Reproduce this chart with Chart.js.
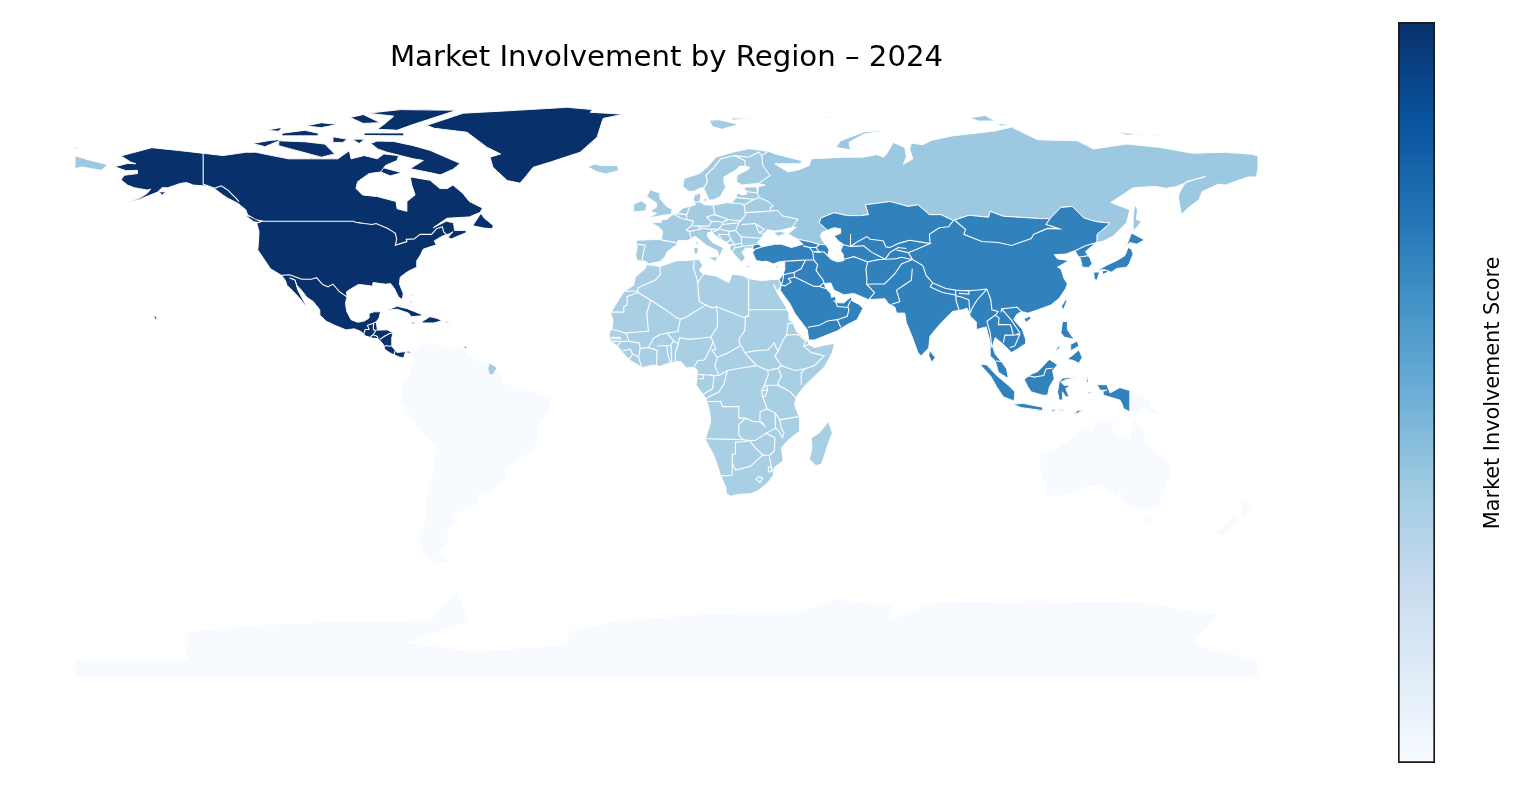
<!DOCTYPE html>
<html>
<head>
<meta charset="utf-8">
<title>Market Involvement by Region</title>
<script src="https://cdn.jsdelivr.net/npm/chart.js@4"></script>
<style>
  html, body { margin: 0; background: #fff; overflow: hidden; }
  #mapChart { position: absolute; left: 0; top: 0; }
  #barChart { position: absolute; left: 1390px; top: 0; }
</style>
</head>
<body>
<canvas id="mapChart" width="1519" height="789"></canvas>
<canvas id="barChart" width="129" height="789"></canvas>
<script>
// Scores
const regionNames = ['North America', 'Asia', 'Europe', 'Russia', 'Africa', 'South America', 'Oceania', 'Antarctica'];
const regionScores = [100, 69, 36, 38, 34, 0, 0, 0];
const blues = ['#f7fbff', '#deebf7', '#c6dbef', '#9ecae1', '#6baed6', '#4292c6', '#2171b5', '#08519c', '#08306b'];

// Outlines are [lon, lat] pairs
const northAmericaLand = [
  [[-156.6,71.4],[-166,68.9],[-163,67],[-161.5,66.5],[-164,66.6],[-168,65.6],[-164.5,64.4],[-161,64.5],[-161,63.5],[-165,63],[-166,61.6],[-164,60],[-162,59.2],[-158,58.5],[-157,58.8],[-158,57.5],[-160,56.2],[-164,54.8],[-160,55.8],[-155,57.8],[-153.5,59.2],[-151.8,59.2],[-150,59.8],[-148,60.5],[-146,60.8],[-144,60],[-140,59.7],[-137,58.5],[-135,57],[-133.5,56],[-130.5,54.5],[-128,52.5],[-127.5,51],[-125,49.5],[-122.8,49],[-124.7,48.4],[-124,46],[-124.2,42],[-124.4,40.3],[-122.5,37.5],[-120.5,34.5],[-117.2,32.5],[-116,31],[-115.5,29.5],[-112.5,26.5],[-110,23.5],[-109.5,23.2],[-110.5,24.8],[-112.2,28],[-113,31],[-114.7,31.7],[-113.1,31.2],[-112.5,29.5],[-111,27.9],[-109.4,25.8],[-107.5,24.5],[-105.5,22],[-105.5,20.4],[-103.5,18.5],[-101,17.3],[-97.5,15.9],[-95,16.2],[-93,15.4],[-91.5,14],[-89.5,13.4],[-87.8,13.2],[-87.4,12.9],[-86,11.2],[-85.7,9.9],[-84,8.8],[-82.8,8.3],[-81.5,7.7],[-80,7.3],[-79.5,9],[-78,8.8],[-77.3,8.6],[-78.5,9.4],[-80,9.2],[-82,9],[-83.6,10.9],[-83.6,13.5],[-83.2,15],[-85,15.9],[-88,15.8],[-88.3,18.4],[-87.5,19.5],[-87,21.4],[-89,21.4],[-90.5,20.9],[-90.5,19.5],[-91.9,18.6],[-94,18.2],[-96,19],[-97.3,21.5],[-97.7,24],[-97.2,26],[-97.4,27.5],[-95,29],[-93.8,29.7],[-91.5,29.5],[-89.5,29.2],[-89.3,30.3],[-85.5,29.8],[-84,30],[-82.8,28.5],[-81.5,25.8],[-80.4,25.2],[-80.1,26.9],[-81.3,30],[-81,32],[-78.5,33.8],[-76,35],[-76,37],[-75,38.5],[-74,40.5],[-71,41.5],[-70,41.8],[-70.7,43],[-68,44.6],[-66,45.2],[-65,45.8],[-66.5,44],[-65.5,43.6],[-61,45.5],[-61,46.2],[-64.5,46.2],[-64.8,48.5],[-67,49],[-71,47],[-66.8,49.9],[-60,50.3],[-56.7,51.7],[-56,53],[-60,55],[-62,57.5],[-65,60],[-66.8,58.9],[-69,59],[-72,61.5],[-78,62.5],[-77.5,60],[-76.5,57],[-79,55],[-79,52],[-82,52.8],[-82.3,55],[-88,56.5],[-92.5,57],[-94.5,59],[-94,61],[-90.5,63.5],[-87,64],[-85.5,66],[-82,67.5],[-81.5,69],[-86,69.5],[-88,68],[-92,69],[-96,68],[-96.5,70.5],[-100,68],[-108,68],[-115,68],[-125,70],[-128,70],[-135,69],[-141,69.7],[-148,70.5]],
  [[-90,72.7],[-88,73.4],[-83,73.3],[-77,72],[-72,70.6],[-62.8,66.6],[-65,64.8],[-69,63],[-67,62.7],[-72,63.8],[-78,65],[-74,67.5],[-77,68],[-85,70],[-87.8,71]],
  [[-118,72],[-105,68.5],[-101,69.5],[-104,72.5],[-110,73.2],[-118,73.5]],
  [[-126,72.7],[-120.7,73.6],[-116.7,74],[-122.2,71.7]],
  [[-90.8,81.9],[-81,83],[-63.8,82.8],[-77,78.5],[-82,76.7],[-88,77],[-85.6,78.8],[-83,81]],
  [[-92,75.9],[-80,75.9],[-80,75],[-92,75.1]],
  [[-96.3,80.6],[-92.3,81.5],[-87,79],[-92.3,78.8]],
  [[-117,75.8],[-110,76.7],[-106,75.8],[-106,75],[-117,75]],
  [[-122,76.7],[-117,77.6],[-118,76.4]],
  [[-101.5,74.7],[-97.2,74],[-98.5,73],[-101.5,73]],
  [[-95.7,74],[-91.8,74],[-93.5,72.7]],
  [[-87,65.5],[-80.5,63.8],[-84,62.8],[-87,64]],
  [[-105,79],[-100,78.5],[-105,77.5],[-110,78]],
  [[-59,47.6],[-55.5,46.9],[-53,46.7],[-52.7,47.7],[-55.5,50],[-56.5,51.4]],
  [[-128.3,50.8],[-125,50],[-123.5,48.5],[-125.5,48.8]],
  [[-73,78.2],[-61.9,81.9],[-45.5,82.8],[-30.3,83.7],[-22.4,83],[-23.3,82.2],[-13.2,81.6],[-19.3,80.3],[-21.1,74.6],[-26.3,70],[-35.4,67],[-40.6,65.4],[-43,62.4],[-44.6,60.6],[-48.5,61.4],[-52.8,65.4],[-53.7,68.5],[-50.5,69.5],[-54.6,71.5],[-60.7,76.1],[-70.7,77.3]],
  [[-85,21.9],[-82,23.1],[-79,22.4],[-75,20.8],[-74.2,20.2],[-77.7,19.9],[-78.5,21],[-82,22.2]],
  [[-74.4,18.4],[-72,19.9],[-69.8,19.4],[-68.4,18.6],[-71,18],[-74,18]],
  [[-78.3,18.3],[-76.3,18.1],[-77,17.7]],
  [[-67.2,18.4],[-65.7,18.3],[-67,18]],
  [[-78,26.7],[-77,26.6],[-77.8,26.3]],
  [[-78,24.5],[-77.5,24.5],[-77.5,23.8]],
  [[-156,20.2],[-155,19.7],[-155.7,18.95]],
  [[-61.7,10.7],[-60.9,10.8],[-61,10.1]],
  [[-154.5,57.9],[-152.3,58],[-153.5,57]]
];
const northAmericaBorders = [
  [[-123,49],[-95.2,49],[-94.6,48.7],[-92,48.3],[-89.6,48],[-88.4,48.3],[-84.8,46.8],[-82.5,45.3],[-82.1,43.5],[-82.5,41.7],[-79,42.8],[-79.2,43.5],[-76.8,43.6],[-75,45],[-71.5,45],[-70,46.7],[-68.2,47.3],[-67.8,45.7],[-67,45]],
  [[-141,69.7],[-141,60.3],[-137.5,59],[-135.5,59.8],[-133.4,58.4],[-131,56],[-130.1,55]],
  [[-117.1,32.5],[-114.7,32.7],[-111,31.3],[-108.2,31.3],[-106.5,31.8],[-104.5,29.6],[-103,29],[-101.5,29.8],[-99.5,27.5],[-97.2,25.9]],
  [[-92.2,14.5],[-91.7,16],[-90.5,16],[-91,17.3],[-89.15,17.9],[-88.3,18.4]],
  [[-89.15,17.9],[-89.2,15.9],[-88.2,15.7]],
  [[-90.1,13.8],[-89.3,14.4],[-88,13.9],[-87.8,13.3]],
  [[-89.3,14.4],[-88.5,15.6]],
  [[-87.3,13],[-85.7,14],[-84.5,14.7],[-83.2,15]],
  [[-85.7,11.1],[-83.7,10.9]],
  [[-82.9,8.1],[-82.6,9.6]]
];

const southAmericaLand = [
  [[-77.3,8.6],[-75.5,10.7],[-72,12.2],[-71.3,11],[-70,12],[-68,10.6],[-62,10.7],[-60,8.4],[-57,6],[-54,5.8],[-52,4.5],[-50,1.8],[-50,0],[-48,-0.7],[-44.5,-2.5],[-40,-2.9],[-35.2,-5.3],[-34.8,-7.5],[-37,-11],[-39,-13.5],[-39,-18],[-40.7,-21.5],[-44,-23],[-48.5,-26],[-49,-29],[-52,-32.5],[-54,-34.5],[-58,-34.5],[-57,-37],[-62,-39],[-65,-41],[-64,-42.5],[-67,-46],[-66,-48],[-69,-51],[-68.3,-52.4],[-71,-53.5],[-74.5,-52],[-75.5,-47],[-73,-41.5],[-73.5,-37],[-71.5,-30],[-70.2,-20],[-76,-14],[-81,-6],[-80.5,-3],[-80,0.5],[-78,2.7],[-77.5,7]],
  [[-68.6,-52.7],[-65,-54.9],[-70,-55],[-74,-53]],
  [[-61,-51.5],[-58,-51.5],[-59,-52.3]]
];

const europeLand = [
  [[31,70.3],[25,71.1],[20,70],[15,68.5],[12.5,65.5],[10,63.5],[5.3,62],[5,59.5],[7,58],[8.5,58.2],[10.7,59.3],[11.3,59],[12.5,56.5],[12.9,55.4],[14.3,55.5],[16.4,56.5],[18,59.5],[17.5,60.7],[17.5,62.5],[21,64.5],[22.3,65.8],[25.3,65.5],[25,64.9],[21.5,63],[21.3,61],[23,60],[25.5,60.3],[28,60.5],[28,59.5],[24.5,59.4],[23.5,59.2],[24.3,58.2],[24.4,57.3],[23.2,57],[21.6,57.5],[21,56],[19.8,54.5],[18.5,54.7],[16,54.2],[14.2,53.9],[11.5,54],[10.9,54.4],[10,55],[10.5,56.3],[10.3,57.6],[8.5,57],[8.2,55.5],[8.8,54],[7,53.5],[5,53],[4,52],[3,51.2],[1.7,50.9],[0,49.5],[-1.6,49.5],[-1.5,48.7],[-4.7,48.5],[-2.5,47.3],[-1.2,46],[-1.5,43.5],[-4,43.4],[-9.2,43.2],[-8.9,41],[-9.4,38.8],[-8.9,37],[-6.3,36.8],[-5.4,36],[-2,36.7],[-0.4,38.2],[0.2,39.7],[3.1,41.8],[3.5,43.2],[6.5,43.1],[8.7,44.4],[10.5,43],[12.4,41.5],[15.5,40],[16,38],[16.7,39.5],[17,40.4],[18.4,40],[16.7,41.2],[14,42.5],[12.5,44.3],[12.4,45.4],[13.7,45.7],[14.5,45],[17,43],[19.4,41.7],[19.3,40.5],[21,38.5],[22.8,36.5],[24,37.8],[23,39.5],[24,40.8],[26.3,40.8],[26.3,41.7],[28,42],[27.7,42.6],[28.6,43.5],[29.7,45.2],[30.7,46.4],[33,46],[35,46.3],[38.2,47.1],[40,49.6],[35.3,50.6],[33.8,52.3],[31.8,52.1],[31.5,53.2],[32.5,53.6],[30.9,55],[28.2,56.2],[27.7,57.3],[27.5,59.4],[28,60.5],[31.5,62.9],[29.3,66],[29,69]],
  [[32.6,45.4],[34.5,46],[36.5,45.3],[34,44.4]],
  [[-24,65.5],[-21,64],[-18.5,63.4],[-14.5,64.4],[-15,66],[-20,66],[-22,66.4]],
  [[-5.5,50],[1.5,51.2],[1.7,52.7],[0,53.5],[-2,55.9],[-2,57.6],[-5,58.6],[-6,56.5],[-3,54.5],[-3,53.3],[-5,52],[-3,51.4]],
  [[-10,51.8],[-6.3,52.2],[-6,54],[-7.5,55.2],[-10,54.2]],
  [[12.5,38],[15.6,38.2],[15,36.7]],
  [[8.3,41],[9.7,41],[9.5,39.1],[8.5,39]],
  [[8.7,42.5],[9.5,43],[9.4,41.5]],
  [[23.7,35.5],[26.2,35.3],[24.7,34.9]],
  [[32.5,35],[34.5,35.6],[33.5,34.7]],
  [[11,55.7],[12.5,56],[12,54.9]],
  [[13,79.8],[16,79.9],[22,78.5],[17,77],[14,77.8]],
  [[20,80.5],[27,80.2],[20,79.8]],
  [[-54,5.8],[-52,4.7],[-51.7,4.1],[-52.7,2.3],[-54,2.2],[-54.4,4]]
];
const europeBorders = [
  [[11.3,59],[12.5,61],[12,63],[14.5,65.5],[16.5,68],[20.5,69],[25,68.5],[28,70],[29,69]],
  [[20.5,69],[23.8,67.5],[24,65.8]],
  [[-1.7,43.3],[3.1,42.4]],
  [[-8.8,42],[-6.5,41.7],[-7,39.5],[-7.4,37.2]],
  [[2.5,51],[4.2,50],[5.8,49.5],[6.2,49.5],[8.2,49],[7.6,47.6],[6,46.3],[7,45.9],[7.5,43.8]],
  [[3.3,51.3],[6,51]],
  [[7,53.2],[6.1,50.8],[6.2,49.5]],
  [[7,45.9],[10.4,46.6],[9.6,47.5],[7.6,47.6]],
  [[8.6,54.9],[9.9,54.8]],
  [[14.2,53.9],[14.7,51],[12.2,50.3],[13.7,48.8],[13,47.5],[9.6,47.5]],
  [[10.4,46.9],[13.7,46.5],[16,46.7],[17,48]],
  [[13.7,48.8],[15,49],[17,48.7],[18.8,49.5],[14.7,51]],
  [[18.8,49.5],[22.5,49.1],[24,50.8],[23.7,53.8],[22.7,54.4],[19.8,54.5]],
  [[17,48.7],[17,48],[22,48.5],[22.5,49.1]],
  [[22,48.5],[21,46.2],[19,45.9],[16,46.7]],
  [[22.9,48],[27,48.3],[29.8,46.5],[28.2,45.5],[29.7,45.2]],
  [[27,48.3],[28.2,45.5]],
  [[21,46.2],[22.7,44.3],[28.6,43.8]],
  [[22.7,44.3],[23,41.3],[26.3,41.7]],
  [[23,41.3],[20.9,40.9],[20,39.7]],
  [[19.4,41.7],[20.5,42],[20.9,40.9]],
  [[20.6,42],[23,42.3]],
  [[15.8,45],[19,44.9],[19.6,43.5],[18.5,42.5],[17,43.2],[15.8,45]],
  [[19.6,43.5],[20.6,42],[19.4,41.8]],
  [[13.7,45.5],[16,46.5]],
  [[13.7,46.5],[13.7,45.6]],
  [[19,45.9],[19,45]],
  [[24,51.6],[31.8,52.1]],
  [[23.5,53.9],[26.6,55.6],[28.2,56.2]],
  [[21,56.2],[26.6,55.7]],
  [[24.4,58],[27.5,57.6]]
];

const russiaLand = [
  [[28,60.5],[30,60],[28,59.5],[27.7,57.3],[28.2,56.2],[30.9,55],[32.5,53.6],[31.5,53.2],[31.8,52.1],[33.8,52.3],[35.3,50.6],[40,49.6],[38.2,47.1],[39.5,47.2],[37.5,45.5],[37,45],[38.5,44.3],[40,43.5],[43.7,42.7],[46.5,41.9],[48.5,41.8],[47.5,43],[46.8,44.6],[47.5,45.7],[49,46.3],[47,48],[46.5,48.5],[47,50],[51,51.6],[55,50.7],[59,50.7],[61.5,51],[60.5,54],[68,55],[71,54.2],[73.5,53.5],[76.5,54],[80,51],[83.5,51],[87.3,49.2],[92,50.8],[98,50.2],[98.5,52],[102.5,50.5],[106,50.3],[113.8,49.8],[116.7,49.8],[120,53.2],[123.5,53.5],[127,50],[130.6,48.9],[135,48.4],[131,45],[131,43],[130.6,42.4],[133,43],[136,44.5],[140,48.5],[141,52.5],[137,54],[135.2,54.7],[138,56.5],[142,59.2],[149,59.6],[152,59],[155,59.5],[160,61.5],[164,62.6],[158,61],[156,57.5],[155.8,56],[156.7,51],[158.5,52.8],[162,55.5],[163,58],[168,60.3],[170,60],[177,62.5],[179.5,62.5],[180,65],[180,68.9],[178,69.4],[170,70],[160,69.7],[150,71.5],[140,72.5],[130,71],[125,73.5],[113,73.8],[105,77.7],[100,76.5],[87,75],[80.5,73.6],[78,72.3],[74.5,72.8],[74,71],[75,68],[72,66.3],[73,68.5],[72.5,71.5],[69,73],[67,69.5],[66,68.5],[64,69.3],[60,68.5],[54,68.5],[44,68],[43.5,66],[40,64.6],[37,64],[34.5,65.5],[33,66.5],[41,66.5],[41,67.5],[33,69.5],[31,70.3],[29,69],[29.3,66],[31.5,62.9]],
  [[51.5,71.5],[56,70.7],[55.5,73],[60,75.5],[68,76.8],[60,76.2],[53,73.5]],
  [[92,80.5],[97,81.2],[100,79.5],[95,79.5]],
  [[100,78.8],[105,78.5],[102,78]],
  [[137,76],[145,75.6],[140,75.2]],
  [[148,75.4],[150.5,75.2],[148,75]],
  [[142.5,54.3],[143.3,52.5],[143,49.5],[144.5,49],[143,47],[142,46],[142,50]],
  [[-180,68.9],[-175,67.5],[-170,66.2],[-172,64.5],[-178,65.5],[-180,65]],
  [[-180,71.5],[-177.5,71.3],[-180,71]],
  [[47,80.8],[51,80.9],[48,80.5]]
];

const asiaLand = [
  [[26.3,40.8],[26.3,41.7],[28,42],[29,41.2],[26.3,40.3]],
  [[26.2,39.5],[27.3,37],[29,36.7],[30.5,36.8],[32.5,36],[34.5,36.7],[36,36.8],[36,34.5],[35,32],[34.3,31.3],[34.9,29.5],[34.6,28],[36,26],[37.5,24],[39,21],[40.5,19],[42.8,16],[43.3,12.8],[45,12.8],[48,14],[52,15.6],[55,17.5],[58,19],[59.8,22.5],[58.5,23.7],[56.4,24.8],[56.3,26],[55,25],[54,24.1],[51.6,24.2],[51.5,25.8],[51,26],[50.2,25.8],[50,27],[48.5,28.5],[48,30],[50,30.2],[51,28],[54,26.6],[57,27],[61.5,25.1],[66.5,25.4],[67.5,23.9],[69.5,22.8],[70,21],[72.5,21],[73,18],[74.5,14.5],[76.5,9],[77.5,8],[79.8,10.4],[80.2,14],[82.5,16.8],[85,19.5],[87,21.5],[90,22],[91.5,22.5],[92.5,20],[94.3,18.3],[94.3,16],[97.3,16.8],[98.5,12],[98.5,8],[100,6.5],[101,3],[103.5,1.4],[104,1.4],[103.5,4],[102,6.2],[100,8.5],[99.2,11],[100,13.5],[101,12.7],[103,11],[105,9],[106.7,10],[109.3,11.7],[109.3,13],[108.3,16],[105.7,19],[106.5,20.5],[108,21.5],[110,21],[113.5,22.2],[117,23.5],[119.5,25.5],[121.5,28.5],[122,30],[121,31.5],[120,34.5],[119,35],[122.5,37],[119,37.5],[118,38.8],[121.5,39],[124.3,40],[125.2,38.5],[126,37.5],[126.5,35],[128.5,34.9],[129.5,36],[129,37.5],[127.5,39.7],[130.6,42.4],[131,43],[131,45],[135,48.4],[130.6,48.9],[127,50],[123.5,53.5],[120,53.2],[116.7,49.8],[113.8,49.8],[106,50.3],[102.5,50.5],[98.5,52],[98,50.2],[92,50.8],[87.3,49.2],[83.5,51],[80,51],[76.5,54],[73.5,53.5],[71,54.2],[68,55],[60.5,54],[61.5,51],[59,50.7],[55,50.7],[51,51.6],[47,50],[46.5,48.5],[47,48],[49,46.3],[51,47],[53,46.7],[53,45.3],[51,44.5],[52.5,42.8],[53.8,42],[53,40],[53.8,38.9],[54,37],[52,36.6],[50,37.4],[49,38.5],[49.5,40.2],[48.5,41.8],[46.5,41.9],[43.7,42.7],[40,43.5],[41.5,42],[38,41],[35,42],[33,42],[29.2,41.2],[27,40.5]],
  [[131,34],[134,35.6],[137,37],[139.5,38.5],[140.5,41],[141.5,40.5],[142,39],[140.8,36],[140,35],[137,34.6],[135.5,33.5],[133,34.3]],
  [[140,41.5],[141.5,45.4],[145.5,43.3],[143,42],[141,42.5]],
  [[130,33.5],[131.8,33.5],[131,31],[130.2,31.3]],
  [[132.5,33.8],[134.5,34.2],[134,33.3],[132.8,32.8]],
  [[120.2,23],[121.5,25.2],[121.8,24.5],[120.8,22]],
  [[108.7,19.3],[110.5,20],[111,19.5],[109.5,18.2]],
  [[79.8,8],[80,9.7],[81.8,7.5],[80.7,6]],
  [[120.5,18.5],[122,18.4],[122,16],[124,13],[121,13.7],[120,15]],
  [[122,7],[124,8.5],[125.5,9.8],[126.5,7.5],[125.5,5.7],[124,6.5]],
  [[123,11.5],[125,12.5],[125.5,11],[123,9.5]],
  [[118,9],[119.5,11.3],[119.7,10.5],[117.5,8.4]],
  [[95.3,5.5],[97.5,5.2],[100.5,2],[104,-1],[106,-3],[105.8,-5.8],[102.5,-4.5],[100.5,-1.5],[98.7,1.7]],
  [[105.3,-6.8],[108.5,-6.5],[114.5,-7.7],[114.5,-8.7],[108,-7.8]],
  [[109,1],[111.2,2.5],[113,3.2],[116.5,6.9],[119,5.3],[117.5,3.5],[118,1],[116.5,-1.5],[116,-4],[114.5,-4],[111,-3],[110,-1.5],[109,0.5]],
  [[119.5,0],[120.5,1.2],[125,1.5],[121,0.5],[120,0],[121,-1],[123,-1],[121.5,-2],[122.5,-4.5],[121.5,-4.5],[120.5,-3],[120.5,-5.5],[119.5,-5.5],[119,-3]],
  [[124,-10],[127,-8.5],[125,-8.7]],
  [[119,-8.5],[122.5,-8.3],[120,-8.8]],
  [[117,-8.5],[119,-8.3],[117.5,-9]],
  [[127.8,2],[128.5,0],[127.8,0]],
  [[128,-3],[130.8,-3.3],[128.5,-3.5]],
  [[131,-0.8],[134,-0.8],[135,-3.3],[138,-1.7],[141,-2.6],[141,-9.1],[139,-8],[138.8,-7],[138,-5.5],[133,-4],[132.8,-2.8],[134,-2.5],[132,-2.5]]
];
const asiaBorders = [
  [[36,36.8],[42.3,37.2],[44.8,37.2],[44.5,39.7],[43.5,41],[41.5,41.5]],
  [[43.5,41],[45.5,41],[46.5,39.5],[44.8,39.7]],
  [[44.8,39.7],[48,39.6],[49,38.5]],
  [[45.5,41],[46.5,41.9]],
  [[42.3,37.2],[41,34.5],[38.8,33.4]],
  [[35.6,32.7],[38.8,33.4],[39,32],[37,31.5],[38,30.5],[36,29.3],[35,29.5]],
  [[35.1,33.1],[35.6,33.3],[35.6,32.7],[35.5,31.5],[35,29.5]],
  [[36,34.6],[35.6,33.3]],
  [[39,32],[44.7,29.2],[46.5,29.1],[48.4,28.5]],
  [[46.5,29.1],[47.7,30.1],[48,30]],
  [[44.8,37.2],[46,35.7],[45.5,34],[47.7,31],[48,30]],
  [[43,16.7],[46.5,17.3],[49,18.6],[52,19],[53,16.7]],
  [[52,19],[55,20],[55.5,22],[55.2,23],[56,24.8]],
  [[55.2,22.7],[52,23],[51.6,24.2]],
  [[50.8,24.8],[51.6,24.2]],
  [[54,37.4],[57,38.2],[61.2,36.6],[60.7,34.3],[61,31.5],[60.9,29.8],[63.3,27.2],[61.6,25.1]],
  [[60.9,29.8],[66.3,29.9],[69.5,33],[71.5,36],[74.8,37.3]],
  [[61.2,36.6],[64.5,37.3],[66.5,37.4],[70,37.6],[71.5,38],[74.9,37.3],[73.6,39.4],[70,40.2]],
  [[56,45],[56,41.3],[58,42.7],[61,44.3],[62,43.5],[66,43],[66.7,41.2],[68,41],[70.5,42.2]],
  [[53,42],[56,41.3],[60,41.5],[62.5,39.5],[66.5,37.4]],
  [[66.5,37.4],[68,39.5],[70.5,41],[73,40.7]],
  [[70.5,42.2],[74,43.2],[80.2,42.2],[76,40.4],[73.7,39.5]],
  [[80.2,42.2],[80,45],[83,47],[85.8,47.3],[87.3,49.2]],
  [[87.8,49.2],[91,46.5],[90.5,45],[96,42.8],[101,42.5],[105,41.6],[111,43.7],[111.7,45],[116,46.8],[119.5,46.7],[115.5,48],[116.7,49.8]],
  [[74.9,37.3],[78,35.5],[79,32.5],[81,30.2],[85,28.5],[88,28],[92,27.8],[97.5,28.3]],
  [[80.2,29],[81,30.2]],
  [[80.2,29],[84,27.3],[88,26.5],[88,28]],
  [[89,27],[92,26.8],[92,27.8],[89,27.8]],
  [[88,26.3],[89.5,26],[92,25],[92.4,20.8]],
  [[88,26.3],[88.2,24.5],[89,22]],
  [[97.5,28.3],[94.5,25],[93,22.5],[92.4,21]],
  [[74.8,34.5],[74.5,31],[70,28],[71,24.5],[68.5,23.7]],
  [[97.5,28.3],[98.7,25],[99,22],[101,21.5]],
  [[100,20.4],[97.5,18.5],[98.5,15],[99,10.5]],
  [[101,21.5],[100,20.4],[101.2,19.5],[101,17.5],[104.7,17.5],[105.5,14.5]],
  [[102,22.3],[105,18.8],[107.5,15],[106.5,14.5]],
  [[101.8,21.2],[102,22.3],[106.7,22.8],[108,21.5]],
  [[102.5,12],[103,14.3],[105.5,14.3],[107.5,14.5],[106,11],[104.5,10.5]],
  [[100.3,6.5],[102,6.2]],
  [[124.3,40],[127.5,41.5],[130.6,42.4]],
  [[125.2,38],[128.3,38.5]],
  [[109.7,2],[112,1.5],[114.8,2],[115.5,4],[117.5,4.2]]
];

const africaLand = [
  [[-6,35.8],[-2,35.2],[3,36.9],[10,37.3],[11,35.5],[10,34],[11,33],[15,32.3],[19,30.3],[20,32.8],[23,32.5],[25,31.5],[29,30.9],[32,31.2],[34.3,31.3],[34.9,29.5],[34,27.8],[33.2,28.5],[32.6,29.8],[33.8,27],[35.7,24],[37.3,21],[37.2,19],[38.5,18],[39.5,15.5],[43,12.5],[43.3,11.4],[45,10.5],[48,11.2],[51.1,11.8],[50.5,9],[48,4.5],[42,-1.2],[39.5,-4.5],[39,-7],[40.5,-11],[40.5,-15],[37,-17.7],[35,-20],[35.5,-24],[32.8,-26],[32.5,-28.5],[30.5,-31],[27.5,-33.3],[25.7,-34],[22,-34.2],[19.5,-34.8],[18.3,-34],[18,-32],[16.5,-28.5],[14.5,-22.5],[11.8,-17.5],[13.5,-12],[13,-8.5],[12,-5],[9,-1],[9.5,3.5],[8.5,4.5],[6,4.3],[4.3,6.3],[1,5.9],[-2,4.8],[-4,5.2],[-7.5,4.4],[-11.5,6.9],[-13.3,9],[-15,11],[-17,12.5],[-17.5,14.7],[-16.5,16.5],[-16.3,19],[-17,21],[-15.5,23.5],[-13,27.5],[-10,29.5],[-9.5,32],[-6.5,34.5]],
  [[49.3,-12],[50.5,-15.5],[49.5,-18],[47.2,-25],[45.5,-25.5],[43.5,-23.5],[44.3,-20],[44,-17],[46.5,-15.5]]
];
const africaBorders = [
  [[-2,35.1],[-1.8,32.8],[-3.5,31],[-8.7,28.7],[-8.7,27.3],[-4.8,25]],
  [[-13,27.7],[-8.7,27.7]],
  [[-8.7,27.3],[-12,26],[-12,23.5],[-13,23],[-13,21.3],[-17,21.3]],
  [[-4.8,25],[-6,21],[-5.5,15.5],[-12,15],[-12.2,14.8]],
  [[-16.5,16.1],[-12.2,14.8],[-11.4,12.4],[-16.7,12.4]],
  [[-16.8,13.6],[-14,13.6],[-14,13.2],[-16.8,13.2]],
  [[-13.7,12.5],[-15,11]],
  [[-11.4,12.4],[-8.3,11.9],[-8,10.2],[-5.5,10.5],[-2.9,9.7],[-3,5.1]],
  [[-13.2,9.5],[-11,10],[-10.3,8.5],[-11.4,6.9]],
  [[-10.3,8.5],[-8.5,7.6],[-7.5,4.4]],
  [[-8.5,7.6],[-8,10.2]],
  [[-5.5,10.5],[-4,13.3],[-2,14.5],[0.2,14.9],[3.5,15.4],[4.2,19.2]],
  [[-4.8,25],[1.2,21],[3.2,19.5],[4.2,19.2],[5.7,19.6],[12,23.5]],
  [[8.4,36.9],[8.2,34.6],[9.1,32.1],[9.5,30.3],[9.7,27],[10,24.5],[12,23.5]],
  [[9.5,30.3],[10.3,31.5],[11.5,33.1]],
  [[12,23.5],[14,22.6],[15,23],[24,19.5],[24,20],[25,20],[25,22]],
  [[25,31.6],[25,22],[37,22]],
  [[24,19.5],[23.8,15.7],[22,13],[22.5,11]],
  [[15,23],[15.5,21],[15.5,16.9],[13.5,13.7],[14.2,12.2],[15.1,10],[13.8,9.7],[15.5,7.5],[18.5,8.8],[22.5,11]],
  [[3.6,11.7],[4,13.5],[7,13],[13.5,13.7]],
  [[0.2,14.9],[2.2,12.5],[3.6,11.7],[2.7,9],[2.7,6.3]],
  [[1.6,6.2],[1.4,11.5],[2.2,12.5]],
  [[1.4,11],[0,11.1],[0.5,8],[1.2,6.1]],
  [[-2.9,11],[0,11.1]],
  [[8.5,4.8],[9.5,6.5],[11.5,6.7],[13,9.5],[14.2,12.2]],
  [[9.8,2.3],[16,2],[14.7,5],[15.5,7.5]],
  [[16,2],[18.5,3.5],[27.3,5]],
  [[22.8,11],[24,8.7],[27.4,5]],
  [[23.8,9],[27,9.5],[29,9.7],[31,9.8],[32.8,12],[33.2,10.7],[34,9.5]],
  [[34,9.5],[33,7.8],[35,5],[33.9,4.2],[30.8,3.5],[27.4,5]],
  [[34,9.5],[35.5,12.8],[36.5,14.3],[37,17.8],[38.5,18]],
  [[36.5,14.3],[40,14.5],[42.4,12.5],[41.7,11],[43.2,11.4]],
  [[41.7,11],[44,9],[48,8],[45,5],[42,4]],
  [[35,5],[36.5,4.4],[39,3.5],[42,4],[41,2.8],[41,-0.8]],
  [[34,4.2],[35,1.8],[34,0],[34,-1],[37.7,-3],[39.2,-4.7]],
  [[30.8,3.5],[31,2.3],[29.6,-1.4],[30.5,-1],[34,-1]],
  [[30.5,-1],[30.8,-2.4],[30,-4.4],[29.2,-4.4],[29,-2.5],[29.6,-1.4]],
  [[29,-2.7],[30.6,-2.4]],
  [[29.2,-4.4],[30.7,-8.2],[33,-9.4],[34.5,-11.5],[40.4,-10.5]],
  [[34.5,-11.5],[34.9,-14],[35.8,-15.5],[35.3,-17],[34.2,-15],[33.2,-14],[33,-9.4]],
  [[33.2,-14],[30.3,-15.6],[33,-17],[32.8,-21],[31.3,-22.4],[32,-26.8],[32.8,-26.9]],
  [[30.7,-8.2],[28.5,-9],[28.4,-12],[29.8,-13.3],[29.2,-12.3],[26,-11.9],[24,-11],[22,-11],[22,-7.5],[17,-7.5],[16.5,-5.9],[12.2,-6]],
  [[24,-11],[22,-13],[22,-16.2],[23.5,-17.6],[25.3,-17.8],[27,-17.8],[30.3,-15.6]],
  [[11.8,-17.3],[18.5,-17.4],[23.5,-17.6]],
  [[25.3,-17.8],[27,-20],[29.3,-22.2],[31.3,-22.4]],
  [[25.3,-17.8],[23.5,-18.2],[21,-18.3],[21,-22],[20,-22],[20,-28.4],[16.5,-28.6]],
  [[20,-24.8],[21,-26.8],[25.5,-25.7],[29.3,-22.2]],
  [[31.3,-25.8],[32,-26],[32,-27.3],[31,-27.3],[31,-26],[31.3,-25.8]],
  [[28,-28.8],[29.3,-29.3],[28.5,-30.6],[27.2,-29.6],[28,-28.8]],
  [[12.2,-5],[13,-4.5],[16,-3],[17.5,-0.5],[18.5,3.5]],
  [[11,-3.9],[14,-2],[14.5,1.7],[13.3,2.3]],
  [[9.8,1],[11.3,1],[11.3,2.2],[9.8,2.3]]
];

const oceaniaLand = [
  [[114,-22],[113.5,-26],[115.5,-32],[115,-34.3],[118,-35],[123.5,-33.9],[129,-31.6],[134,-32.5],[137.5,-34.9],[138,-33],[138.2,-35.6],[140.5,-38],[144,-38.7],[146.5,-39],[150,-37.5],[151.5,-33.5],[153.5,-28],[153,-25],[149,-21],[146,-19],[145.3,-15],[142.5,-10.7],[141.5,-13.5],[141,-17],[139,-17.5],[135.5,-15],[136.8,-12],[132.5,-11.3],[130.5,-12.5],[129.5,-15],[126,-14],[122.2,-18],[119,-20]],
  [[144.7,-40.7],[148.2,-40.8],[147.8,-43],[146,-43.5]],
  [[172.8,-34.5],[175.5,-36.7],[178.5,-37.7],[176.8,-40],[175,-41.5],[174.8,-39],[174.5,-37]],
  [[172.8,-40.5],[174.2,-41.7],[172.5,-43.8],[171,-45.5],[169,-46.6],[166.5,-46],[170.5,-43]],
  [[141,-2.6],[144.5,-3.8],[147.5,-6],[147,-6.8],[150.8,-10.3],[147,-9.5],[144.7,-7.6],[143,-9.2],[141,-9.1]],
  [[148.3,-5.6],[152,-4.2],[150.5,-6.2]],
  [[164,-20.2],[167,-22.3],[165,-21.7]]
];

const antarcticaLand = [
  [[-180,-90],[-180,-84.7],[-165,-84.5],[-146,-84.5],[-146,-76],[-125,-74],[-102,-73],[-85,-73],[-72,-72.5],[-64,-63.5],[-60,-73],[-79,-79.5],[-58,-82],[-30,-80],[-30,-76],[-14,-72.5],[15,-70.5],[40,-70],[51,-66],[68.6,-68],[68.6,-72],[82,-67],[110,-66.5],[144,-67],[168,-71],[161,-78.5],[161,-80],[180,-84.7],[180,-90]]
];

const regionLand = [northAmericaLand, asiaLand, europeLand, russiaLand, africaLand, southAmericaLand, oceaniaLand, antarcticaLand];
const regionBorders = [northAmericaBorders, asiaBorders, europeBorders, [], africaBorders, [], [], []];

// Blues colormap lookup, score is 0-100
function scoreColor(score) {
    const pos = score / 100 * (blues.length - 1);
    const i = Math.min(Math.floor(pos), blues.length - 2);
    const t = pos - i;
    const hex = (c, k) => parseInt(c.substr(1 + k * 2, 2), 16);
    const mix = [0, 1, 2].map(k => Math.round(hex(blues[i], k) * (1 - t) + hex(blues[i + 1], k) * t));
    return 'rgb(' + mix.join(',') + ')';
}

function toPoints(outline) {
    return outline.map(p => ({ x: p[0], y: p[1] }));
}

// Chart.js paints the first dataset last, so the border lines go in first.
// The tiny tension stops the line element from merging points on the same pixel column.
const datasets = [];
regionNames.forEach((name, r) => {
    regionBorders[r].forEach(line => {
        datasets.push({
            label: name + ' border',
            data: toPoints(line),
            borderColor: '#ffffff',
            borderWidth: 1.1,
            fill: false,
            pointRadius: 0,
            tension: 0.0001
        });
    });
});
regionNames.forEach((name, r) => {
    regionLand[r].forEach(outline => {
        const closed = toPoints(outline.concat([outline[0]]));
        datasets.push({
            label: name,
            data: closed,
            backgroundColor: scoreColor(regionScores[r]),
            borderColor: '#ffffff',
            borderWidth: 1,
            fill: 'shape',
            pointRadius: 0,
            tension: 0.0001
        });
    });
});

new Chart(document.getElementById('mapChart'), {
    type: 'line',
    data: { datasets: datasets },
    options: {
        responsive: false,
        animation: false,
        layout: { padding: { left: 75, right: 261, top: 0, bottom: 105 } },
        scales: {
            x: { type: 'linear', min: -180, max: 180, display: false },
            y: { type: 'linear', min: -92, max: 85, display: false }
        },
        plugins: {
            legend: { display: false },
            tooltip: { enabled: false },
            title: {
                display: true,
                fullSize: false,
                text: 'Market Involvement by Region \u2013 2024',
                color: '#000000',
                font: { family: 'DejaVu Sans', size: 29.2, weight: 'normal', lineHeight: 1.2 },
                padding: { top: 41, bottom: 27 }
            }
        }
    }
});

// Colour bar on the right
const barLabelPlugin = {
    id: 'barLabel',
    afterDraw(chart) {
        const ctx = chart.ctx;
        ctx.save();
        ctx.translate(104, 393);
        ctx.rotate(-Math.PI / 2);
        ctx.font = '20.8px "DejaVu Sans"';
        ctx.fillStyle = '#000000';
        ctx.textAlign = 'center';
        ctx.textBaseline = 'middle';
        ctx.fillText('Market Involvement Score', 0, 0);
        ctx.restore();
    }
};

new Chart(document.getElementById('barChart'), {
    type: 'bar',
    data: {
        labels: ['Market Involvement Score'],
        datasets: [{
            data: [[0, 100]],
            backgroundColor(context) {
                const area = context.chart.chartArea;
                if (!area) return blues[0];
                const g = context.chart.ctx.createLinearGradient(0, area.bottom, 0, area.top);
                blues.forEach((c, i) => g.addColorStop(i / (blues.length - 1), c));
                return g;
            },
            borderColor: '#1a1a1a',
            borderWidth: 2,
            borderSkipped: false,
            barPercentage: 1,
            categoryPercentage: 1
        }]
    },
    options: {
        responsive: false,
        animation: false,
        layout: { padding: { left: 8, right: 84, top: 22, bottom: 26 } },
        scales: {
            x: { display: false },
            y: { min: 0, max: 100, display: false }
        },
        plugins: { legend: { display: false }, tooltip: { enabled: false } }
    },
    plugins: [barLabelPlugin]
});
</script>
</body>
</html>
